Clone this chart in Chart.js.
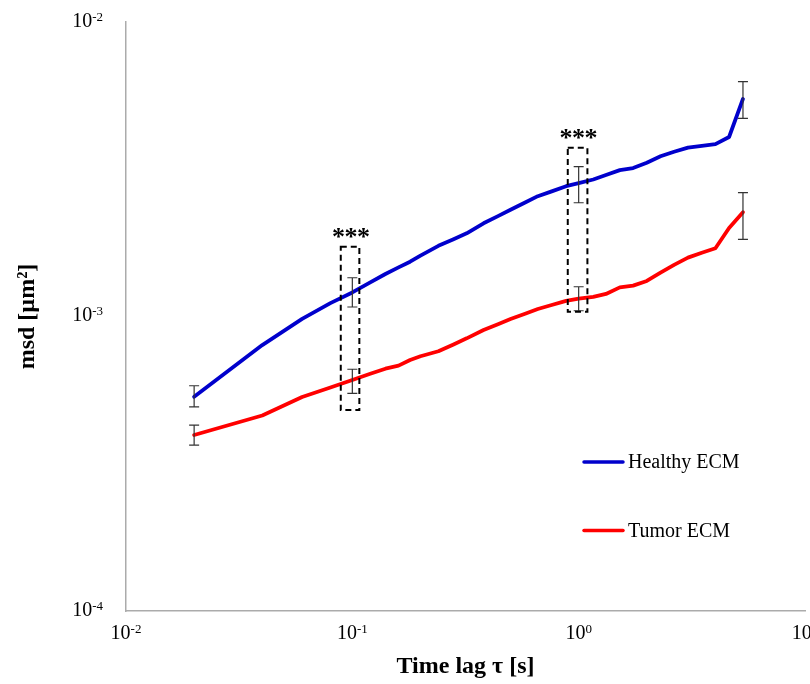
<!DOCTYPE html>
<html><head><meta charset="utf-8">
<script src="https://cdn.jsdelivr.net/npm/chart.js@4.4.0/dist/chart.umd.min.js"></script>
<style>html,body{margin:0;padding:0;background:#fff;}#wrap{width:810px;height:684px;}</style>
</head><body><div id="wrap"><canvas id="c" width="810" height="684"></canvas></div>
<script>
const timeLag = [0.02,0.04,0.06,0.08,0.10,0.12,0.14,0.16,0.18,0.20,0.24,0.28,0.32,0.38,0.44,0.50,0.58,0.66,0.76,0.88,1.00,1.16,1.32,1.52,1.74,2.00,2.30,2.64,3.04,3.50,4.02,4.62,5.32];
const healthyMsd = [5.34e-4,8.00e-4,9.81e-4,1.110e-3,1.207e-3,1.305e-3,1.394e-3,1.468e-3,1.535e-3,1.610e-3,1.738e-3,1.831e-3,1.916e-3,2.072e-3,2.192e-3,2.303e-3,2.438e-3,2.562e-3,2.660e-3,2.770e-3,2.836e-3,2.919e-3,3.024e-3,3.141e-3,3.193e-3,3.328e-3,3.499e-3,3.627e-3,3.745e-3,3.796e-3,3.847e-3,4.070e-3,5.48e-3];
const tumorMsd = [3.96e-4,4.61e-4,5.33e-4,5.74e-4,6.09e-4,6.39e-4,6.65e-4,6.81e-4,7.12e-4,7.33e-4,7.62e-4,8.04e-4,8.43e-4,9.00e-4,9.42e-4,9.80e-4,1.022e-3,1.060e-3,1.094e-3,1.130e-3,1.149e-3,1.165e-3,1.193e-3,1.256e-3,1.273e-3,1.320e-3,1.409e-3,1.497e-3,1.585e-3,1.647e-3,1.705e-3,1.998e-3,2.259e-3];
const errTimeLag = [0.02, 0.1, 1.0, 5.32];
const healthyErrLow = [4.93e-4, 1.077e-3, 2.434e-3, 4.71e-3];
const healthyErrHigh = [5.82e-4, 1.354e-3, 3.226e-3, 6.27e-3];
const tumorErrLow = [3.66e-4, 5.48e-4, 1.046e-3, 1.828e-3];
const tumorErrHigh = [4.28e-4, 6.62e-4, 1.262e-3, 2.633e-3];
const sigTimeLo = [0.0889, 0.895];
const sigTimeHi = [0.1074, 1.093];
const sigMsdLo = [4.81e-4, 1.038e-3];
const sigMsdHi = [1.726e-3, 3.74e-3];
const sigLabels = ['***', '***'];
const xTickExponents = [-2, -1, 0, 1];
const yTickExponents = [-4, -3, -2];
const seriesNames = ['Healthy ECM', 'Tumor ECM'];

const SERIF = '"Liberation Serif", "Times New Roman", serif';
const colors = ['#0000CC', '#FF0000'];

function pts(ys){ return timeLag.map((t,i)=>({x:t, y:ys[i]})); }

function drawPow(ctx, x, baseY, exp, align){
  const b = '10', s = String(exp);
  ctx.font = '20px ' + SERIF; const wb = ctx.measureText(b).width;
  ctx.font = '13px ' + SERIF; const ws = ctx.measureText(s).width;
  const total = wb + ws;
  const x0 = align === 'center' ? x - total/2 : x - total;
  ctx.fillStyle = '#000'; ctx.textAlign = 'left'; ctx.textBaseline = 'alphabetic';
  ctx.font = '20px ' + SERIF; ctx.fillText(b, x0, baseY);
  ctx.font = '13px ' + SERIF; ctx.fillText(s, x0 + wb, baseY - 6);
}

const overlay = {
  id: 'overlay',
  afterDatasetsDraw(chart){
    const ctx = chart.ctx, xs = chart.scales.x, ys = chart.scales.y;
    ctx.save();
    // error bars
    ctx.strokeStyle = '#333'; ctx.lineWidth = 1.2;
    [[healthyErrLow, healthyErrHigh],[tumorErrLow, tumorErrHigh]].forEach(([lo,hi])=>{
      errTimeLag.forEach((t,i)=>{
        const px = xs.getPixelForValue(t), y1 = ys.getPixelForValue(lo[i]), y2 = ys.getPixelForValue(hi[i]);
        ctx.beginPath();
        ctx.moveTo(px, y1); ctx.lineTo(px, y2);
        ctx.moveTo(px-5, y1); ctx.lineTo(px+5, y1);
        ctx.moveTo(px-5, y2); ctx.lineTo(px+5, y2);
        ctx.stroke();
      });
    });
    // significance boxes
    ctx.strokeStyle = '#000'; ctx.lineWidth = 2; ctx.setLineDash([6,4]);
    sigTimeLo.forEach((t,i)=>{
      const x1 = xs.getPixelForValue(t), x2 = xs.getPixelForValue(sigTimeHi[i]);
      const y1 = ys.getPixelForValue(sigMsdHi[i]), y2 = ys.getPixelForValue(sigMsdLo[i]);
      ctx.strokeRect(x1, y1, x2-x1, y2-y1);
      ctx.fillStyle = '#000'; ctx.font = 'bold 26px ' + SERIF;
      ctx.textAlign = 'center'; ctx.textBaseline = 'alphabetic';
      const cx = (x1+x2)/2 + 1;
      const chars = sigLabels[i].split('');
      chars.forEach((c,k)=>{ ctx.fillText(c, cx + (k - (chars.length-1)/2) * 12.5, y1 - 2); });
    });
    ctx.setLineDash([]);
    ctx.restore();
  },
  afterDraw(chart){
    const ctx = chart.ctx, xs = chart.scales.x, ys = chart.scales.y;
    ctx.save();
    xTickExponents.forEach(e=>{ drawPow(ctx, xs.getPixelForValue(Math.pow(10,e)), xs.top + 27.5, e, 'center'); });
    yTickExponents.forEach(e=>{ drawPow(ctx, 103, ys.getPixelForValue(Math.pow(10,e)) + 4.5, e, 'right'); });
    // legend
    const legY = [462, 530.5];
    seriesNames.forEach((n,i)=>{
      ctx.strokeStyle = colors[i]; ctx.lineWidth = 3.5; ctx.lineCap = 'round';
      ctx.beginPath(); ctx.moveTo(584, legY[i]); ctx.lineTo(623, legY[i]); ctx.stroke();
      ctx.fillStyle = '#000'; ctx.font = '20px ' + SERIF; ctx.textAlign = 'left'; ctx.textBaseline = 'middle';
      ctx.fillText(n, 628, legY[i] + 1);
    });
    ctx.restore();
  }
};

new Chart(document.getElementById('c'), {
  type: 'line',
  data: { datasets: [
    { label: seriesNames[0], data: pts(healthyMsd), borderColor: colors[0], borderWidth: 3.8 },
    { label: seriesNames[1], data: pts(tumorMsd), borderColor: colors[1], borderWidth: 3.8 }
  ]},
  options: {
    responsive: false, animation: false, devicePixelRatio: 1,
    layout: { padding: { top: 22, right: 5, left: 0, bottom: 0 } },
    elements: { point: { radius: 0 }, line: { tension: 0, borderJoinStyle: 'round', borderCapStyle: 'round' } },
    plugins: { legend: { display: false }, tooltip: { enabled: false } },
    scales: {
      x: { type: 'logarithmic', min: 0.01, max: 10,
        grid: { display: false }, border: { display: true, color: '#ababab', width: 1.5 },
        ticks: { display: false },
        title: { display: true, text: 'Time lag τ [s]', color: '#000', font: { family: SERIF, size: 24, weight: 'bold' }, padding: { top: 0, bottom: 2.6 } },
        afterFit(s){ s.height = 73; } },
      y: { type: 'logarithmic', min: 1e-4, max: 1e-2,
        grid: { display: false }, border: { display: true, color: '#ababab', width: 1.5 },
        ticks: { display: false },
        title: { display: true, text: 'msd [µm²]', color: '#000', font: { family: SERIF, size: 24, weight: 'bold' }, padding: { top: 13.6, bottom: 0 } },
        afterFit(s){ s.width = 126; } }
    }
  },
  plugins: [overlay]
});
</script></body></html>
